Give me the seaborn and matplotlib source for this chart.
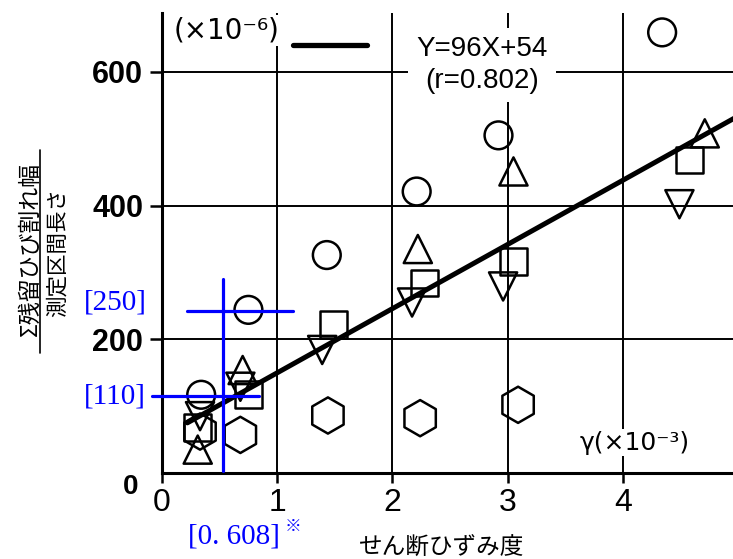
import pandas as pd
import matplotlib
matplotlib.use("Agg")
import matplotlib.pyplot as plt
import seaborn as sns
from matplotlib.lines import Line2D

sns.set_style("ticks")
plt.rcParams["font.family"] = ["Liberation Sans Narrow", "Liberation Sans", "DejaVu Sans", "Noto Sans CJK JP"]
plt.rcParams["text.color"] = "black"
plt.rcParams["xtick.color"] = "black"
plt.rcParams["ytick.color"] = "black"

# せん断ひずみ度 γ (x10^-3) vs Σ残留ひび割れ幅/測定区間長さ (x10^-6)
circle_x = [0.34, 0.75, 1.43, 2.21, 2.92, 4.34]
circle_y = [117, 244, 326, 421, 505, 659]
tri_x = [0.31, 0.70, 2.22, 3.05, 4.71]
tri_y = [35, 154, 335, 451, 508]
sq_x = [0.31, 0.75, 1.49, 2.28, 3.05, 4.58]
sq_y = [68, 117, 222, 284, 316, 468]
inv_x = [0.33, 0.68, 1.39, 2.17, 2.96, 4.49]
inv_y = [85, 129, 184, 255, 279, 402]
hex_x = [0.33, 0.68, 1.44, 2.24, 3.09]
hex_y = [62, 57, 86, 82, 102]

# regression Y = 96X + 54
fit_x = [0.22, 4.98]
fit_y = [75, 532]

x_ticks = [0, 1, 2, 3, 4]
y_ticks = [200, 400, 600]

# blue annotation (γ = 0.608, widths 250 / 110)
ann_gamma = 0.53
ann_hi, ann_lo = 242, 115
ann_labels = ["[250]", "[110]", "[0. 608]"]

groups = [("circle", circle_x, circle_y), ("tri", tri_x, tri_y), ("sq", sq_x, sq_y),
          ("inv", inv_x, inv_y), ("hex", hex_x, hex_y)]
df = pd.concat([pd.DataFrame({"gamma": xs, "width": ys, "kind": k}) for k, xs, ys in groups])
markers = {"circle": "o", "tri": "^", "sq": "s", "inv": "v", "hex": "h"}
sizes = {"circle": 400, "tri": 410, "sq": 370, "inv": 410, "hex": 680}

fig = plt.figure(figsize=(7.33, 5.59), dpi=100)
ax = fig.add_axes([162 / 733, 86 / 559, 571 / 733, 460 / 559])

sns.scatterplot(data=df, x="gamma", y="width", style="kind", markers=markers,
                size="kind", sizes=sizes, facecolor="none", edgecolor="black",
                linewidth=1.8, legend=False, ax=ax, zorder=3)
sns.lineplot(x=fit_x, y=fit_y, color="black", lw=3.6, ax=ax, zorder=4)

ax.set_xlim(0, 4.955)
ax.set_ylim(0, 688)
ax.set_xticks(x_ticks)
ax.set_yticks(y_ticks)
ax.grid(True, color="black", lw=1.4)
sns.despine(ax=ax)
for s in ["left", "bottom"]:
    ax.spines[s].set_linewidth(2.2)
    ax.spines[s].set_color("black")
ax.tick_params(axis="x", direction="out", length=7, width=1.8, pad=4, labelsize=23)
ax.tick_params(axis="y", direction="out", length=8.5, width=1.8, pad=5, labelsize=22)
for t in ax.get_yticklabels():
    t.set_fontweight("bold")
ax.set_xlabel("")
ax.set_ylabel("")
ax.text(-0.27, -21, "0", fontsize=20, fontweight="bold", ha="center", va="center", clip_on=False)

# legend key + equation
ax.plot([1.14, 1.78], [640, 640], color="black", lw=3.8, solid_capstyle="round")
ax.text(2.78, 610, "Y=96X+54\n(r=0.802)", fontsize=20, ha="center", va="center",
        linespacing=1.3, bbox=dict(fc="white", ec="none", pad=6), zorder=5)
ax.text(0.56, 662, "(×10⁻⁶)", fontsize=20, ha="center", va="center",
        family=["DejaVu Sans"], bbox=dict(fc="white", ec="none", pad=1), zorder=5)
ax.text(4.1, 45, "γ(×10⁻³)", fontsize=18, ha="center", va="center",
        family=["DejaVu Sans"], bbox=dict(fc="white", ec="none", pad=1), zorder=5)

# axis titles
fig.text(442 / 733, 1 - 548 / 559, "せん断ひずみ度", fontsize=17,
         family=["Noto Sans CJK JP"], ha="center", va="center")
fig.text(30 / 733, 1 - 249 / 559, "Σ残留ひび割れ幅", fontsize=16.5, rotation=90,
         family=["Noto Sans CJK JP"], ha="center", va="center")
fig.text(58 / 733, 1 - 252 / 559, "測定区間長さ", fontsize=15.5, rotation=90,
         family=["Noto Sans CJK JP"], ha="center", va="center")
fig.add_artist(Line2D([40 / 733, 40 / 733], [1 - 150 / 559, 1 - 353 / 559],
                      color="black", lw=1.2))

# blue annotation
blue = "#0000ff"
ax.plot([ann_gamma, ann_gamma], [3, 290], color=blue, lw=2.3, zorder=6, clip_on=False)
ax.plot([0.22, 1.14], [ann_hi, ann_hi], color=blue, lw=2.3, zorder=6)
ax.plot([-0.09, 0.84], [ann_lo, ann_lo], color=blue, lw=2.3, zorder=6, clip_on=False)
fig.text(115 / 733, 1 - 302 / 559, ann_labels[0], color=blue, fontsize=21,
         family=["Liberation Serif"], ha="center", va="center")
fig.text(115 / 733, 1 - 396 / 559, ann_labels[1], color=blue, fontsize=21,
         family=["Liberation Serif"], ha="center", va="center")
fig.text(234 / 733, 1 - 537 / 559, ann_labels[2], color=blue, fontsize=21,
         family=["Liberation Serif"], ha="center", va="center")
fig.text(293 / 733, 1 - 526 / 559, "※", color=blue, fontsize=12,
         family=["Noto Sans CJK JP"], ha="center", va="center")

fig.savefig("out.png", dpi=100)
